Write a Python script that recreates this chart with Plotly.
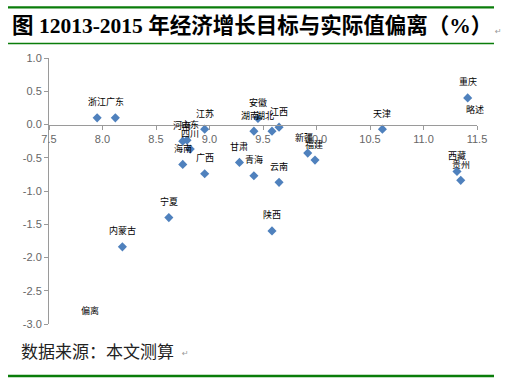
import plotly.graph_objects as go

# ---- data ----
provinces = ["浙江", "广东", "河南", "山东", "四川", "海南", "江苏", "广西", "宁夏", "内蒙古",
             "甘肃", "青海", "湖南", "安徽", "湖北", "江西", "陕西", "云南", "新疆", "福建",
             "天津", "重庆", "西藏", "贵州"]
target_x = [7.95, 8.12, 8.75, 8.79, 8.82, 8.75, 8.955, 8.955, 8.62, 8.186,
            9.28, 9.415, 9.415, 9.453, 9.584, 9.65, 9.584, 9.65, 9.918, 9.986,
            10.616, 11.413, 11.313, 11.348]
deviation_y = [0.10, 0.10, -0.25, -0.235, -0.37, -0.60, -0.07, -0.74, -1.40, -1.84,
               -0.57, -0.77, -0.10, 0.09, -0.10, -0.04, -1.60, -0.87, -0.43, -0.535,
               -0.07, 0.40, -0.705, -0.84]
x_ticks = [7.5, 8.0, 8.5, 9.0, 9.5, 10.0, 10.5, 11.0, 11.5]
y_ticks = [1.0, 0.5, 0.0, -0.5, -1.0, -1.5, -2.0, -2.5, -3.0]
title_text = "图 12013-2015 年经济增长目标与实际值偏离（%）"
source_text = "数据来源：本文测算"
extra_labels = [("偏离", 7.887, -2.79), ("略述", 11.478, 0.221)]

# ---- layout geometry (pixels) ----
W, H = 505, 388
L, R, T, B = 49, 28, 58, 64
PW, PH = W - L - R, H - T - B


def px(x):
    return (x - L) / PW


def py(y):
    return (H - B - y) / PH


label_dx = {"湖南": -4, "湖北": -7, "新疆": -4, "河南": -1, "山东": 3, "福建": -1}

GREEN = "#0a7d0a"

fig = go.Figure()
fig.add_trace(go.Scatter(
    x=target_x, y=deviation_y, mode="markers",
    marker=dict(symbol="diamond", size=7, color="#4f81bd"),
    hoverinfo="skip", showlegend=False,
))

annotations = []
for name, xv, yv in zip(provinces, target_x, deviation_y):
    annotations.append(dict(
        x=xv, y=yv, xref="x", yref="y", text=name, showarrow=False,
        xshift=label_dx.get(name, 0), yshift=16,
        font=dict(family="Noto Sans CJK SC", size=9, color="#000000"),
    ))
for txt, xv, yv in extra_labels:
    annotations.append(dict(
        x=xv, y=yv, xref="x", yref="y", text=txt, showarrow=False,
        font=dict(family="Noto Sans CJK SC", size=9, color="#000000"),
    ))

annotations.append(dict(
    x=px(10), y=py(25.5), xref="paper", yref="paper", xanchor="left", yanchor="middle",
    text="<b>" + title_text + "</b>", showarrow=False,
    font=dict(family="Liberation Serif, Noto Sans CJK SC", size=21.5, color="#000000"),
))
annotations.append(dict(
    x=px(493), y=py(31), xref="paper", yref="paper", xanchor="left", yanchor="middle",
    text="↵", showarrow=False,
    font=dict(family="DejaVu Sans", size=8, color="#999999"),
))
annotations.append(dict(
    x=px(19), y=py(350), xref="paper", yref="paper", xanchor="left", yanchor="middle",
    text=source_text, showarrow=False,
    font=dict(family="Noto Sans CJK SC", size=17, color="#222222"),
))
annotations.append(dict(
    x=px(180), y=py(353), xref="paper", yref="paper", xanchor="left", yanchor="middle",
    text="↵", showarrow=False,
    font=dict(family="DejaVu Sans", size=8, color="#999999"),
))

shapes = [
    dict(type="line", xref="paper", yref="paper", x0=px(8), x1=px(494), y0=py(7.3), y1=py(7.3),
         line=dict(color=GREEN, width=2.2)),
    dict(type="line", xref="paper", yref="paper", x0=px(8), x1=px(494), y0=py(43.5), y1=py(43.5),
         line=dict(color=GREEN, width=1.3)),
    dict(type="line", xref="paper", yref="paper", x0=px(8), x1=px(494), y0=py(376), y1=py(376),
         line=dict(color=GREEN, width=2.6)),
]

axis_font = dict(family="Liberation Sans, Arial", size=11, color="#666666")
fig.update_layout(
    width=W, height=H,
    margin=dict(l=L, r=R, t=T, b=B, autoexpand=False),
    paper_bgcolor="white", plot_bgcolor="white",
    annotations=annotations, shapes=shapes,
    xaxis=dict(range=[7.5, 11.5], tickvals=x_ticks, ticktext=[f"{v:.1f}" for v in x_ticks],
               showgrid=False, zeroline=False, showline=True, linecolor="#9a9a9a", linewidth=1,
               ticks="outside", ticklen=4, tickcolor="#9a9a9a",
               anchor="free", position=0.75, tickfont=axis_font),
    yaxis=dict(range=[-3, 1], tickvals=y_ticks, ticktext=[f"{v:.1f}" for v in y_ticks],
               showgrid=False, zeroline=False, showline=True, linecolor="#9a9a9a", linewidth=1,
               ticks="outside", ticklen=4, tickcolor="#9a9a9a", tickfont=axis_font),
)

fig.write_html(
    "out.html",
    config={"displayModeBar": False, "staticPlot": True},
    post_script="document.body.style.margin='0px';document.body.style.overflow='hidden';",
)
